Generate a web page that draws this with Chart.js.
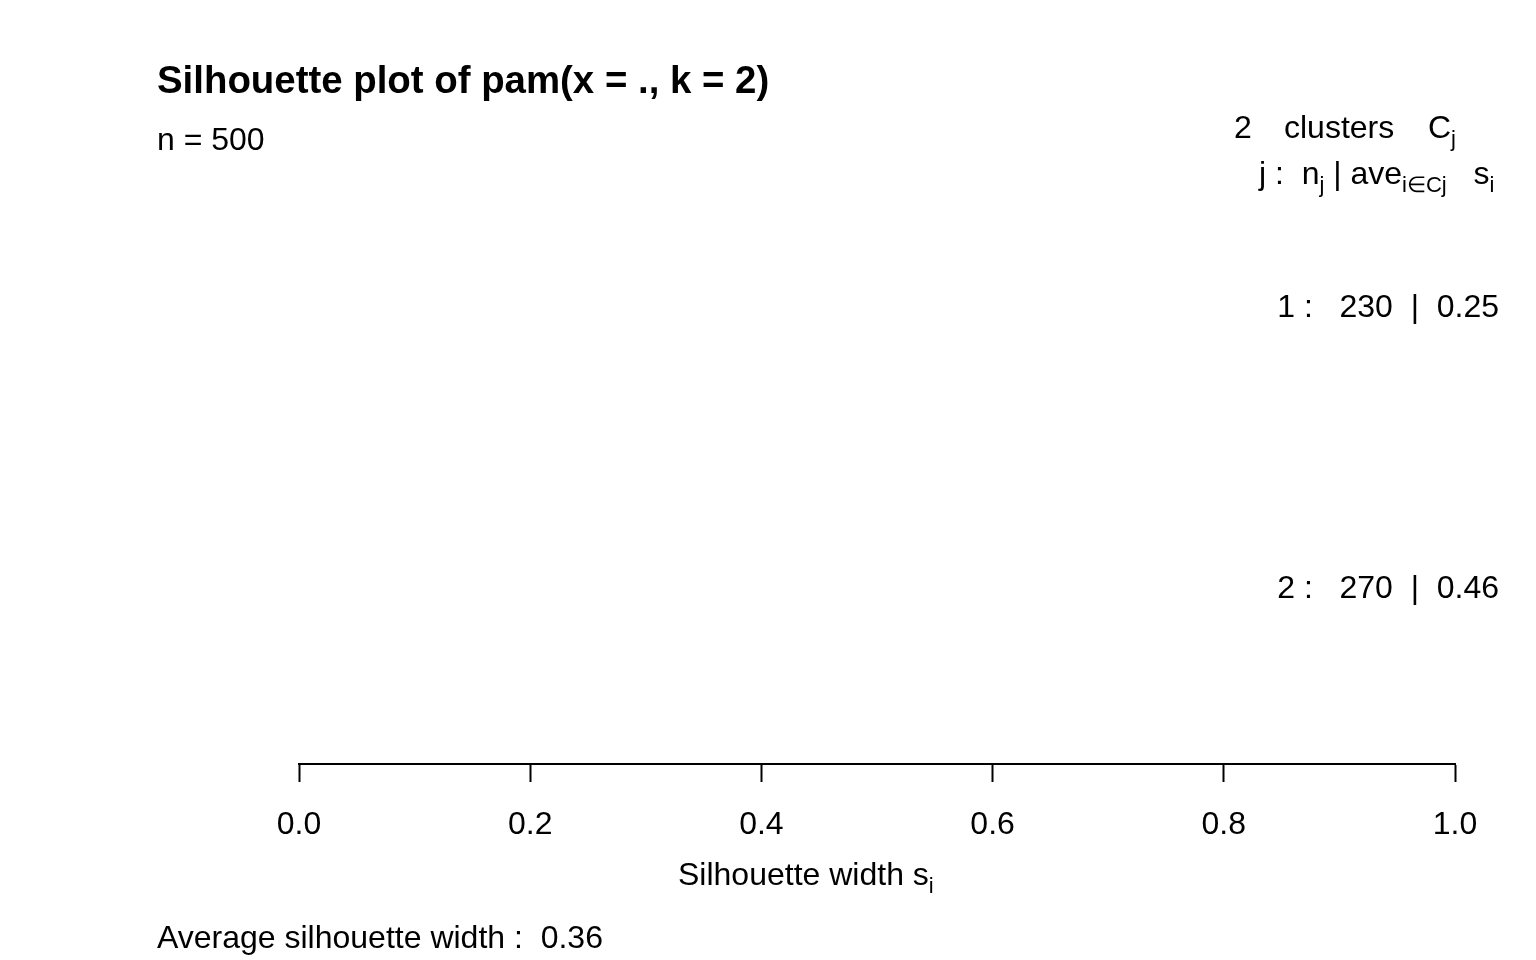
<!DOCTYPE html>
<html>
<head>
<meta charset="utf-8">
<script src="https://cdn.jsdelivr.net/npm/chart.js@4"></script>
<style>
  html, body { margin: 0; padding: 0; background: #fff; }
  #wrap { width: 1536px; height: 960px; }
</style>
</head>
<body>
<div id="wrap"><canvas id="myChart" width="1536" height="960"></canvas></div>
<script>
/* Data */

const clusterIds = [1, 2]
const clusterSizes = [230, 270]
const clusterAvgWidths = [0.25, 0.46]
const xTicks = [0, 0.2, 0.4, 0.6, 0.8, 1.0]
const avgWidth = 0.36
const totalN = clusterSizes.reduce((a, b) => a + b, 0)

const FONT = '"Liberation Sans", Arial, Helvetica, sans-serif'

// bar index layout like R's barplot: clusters stacked, one bar gap between them
let start = 0
const clusterMids = clusterSizes.map((n) => {
    const mid = start + n / 2
    start += n + 1
    return mid
})

function drawParts(ctx, parts, x, y, align) {
    const size = 32, sub = 22
    let w = 0
    parts.forEach((p) => {
        ctx.font = (p.sub ? sub : size) + 'px ' + FONT
        w += ctx.measureText(p.t).width
    })
    let cx = align === 'right' ? x - w : x
    parts.forEach((p) => {
        if (p.x !== undefined) cx = p.x
        ctx.font = (p.sub ? sub : size) + 'px ' + FONT
        ctx.fillText(p.t, cx, y + (p.sub ? 8 : 0))
        cx += ctx.measureText(p.t).width
    })
}

const textPlugin = {
    id: 'silText',
    afterDraw(chart) {
        const ctx = chart.ctx
        const y = chart.scales.y
        ctx.save()
        ctx.fillStyle = '#000'
        ctx.textBaseline = 'alphabetic'
        ctx.textAlign = 'left'

        ctx.font = 'bold 38.4px ' + FONT
        ctx.fillText('Silhouette plot of pam(x = ., k = 2)', 157, 93)

        ctx.font = '32px ' + FONT
        ctx.fillText('n = ' + totalN, 157, 150)

        drawParts(ctx, [
            {t: String(clusterIds.length), x: 1234}, {t: 'clusters', x: 1284},
            {t: 'C', x: 1428}, {t: 'j', sub: true}
        ], 1234, 138)
        drawParts(ctx, [
            {t: 'j :  n'}, {t: 'j', sub: true}, {t: ' | ave'}, {t: 'i\u2208Cj', sub: true},
            {t: '   s'}, {t: 'i', sub: true}
        ], 1259, 184)

        ctx.font = '32px ' + FONT
        ctx.textAlign = 'right'
        clusterIds.forEach((id, i) => {
            const py = y.getPixelForValue(clusterMids[i])
            ctx.fillText(id + ' :   ' + clusterSizes[i] + '  |  ' + clusterAvgWidths[i].toFixed(2), 1499, py + 11)
        })
        ctx.textAlign = 'left'

        drawParts(ctx, [{t: 'Silhouette width s'}, {t: 'i', sub: true}], 678, 885)

        ctx.font = '32px ' + FONT
        ctx.fillText('Average silhouette width :  ' + avgWidth.toFixed(2), 157, 948)
        ctx.restore()
    }
}

/* Chart */

const ctx = document.getElementById('myChart');
new Chart(ctx, {
    type: 'scatter',
    data: { datasets: [] },
    plugins: [textPlugin],
    options: {
        responsive: false,
        animation: false,
        layout: {
            padding: {left: 299, right: 81, top: 155, bottom: 116}
        },
        scales: {
            x: {
                type: 'linear',
                min: 0,
                max: 1,
                afterBuildTicks: (s) => { s.ticks = xTicks.map((v) => ({value: v})) },
                afterFit: (s) => { s.height = 80 },
                ticks: {
                    color: '#000',
                    padding: 24,
                    maxRotation: 0,
                    font: {family: FONT, size: 32},
                    callback: (v) => Number(v).toFixed(1)
                },
                grid: {
                    drawOnChartArea: false,
                    drawTicks: true,
                    tickLength: 18,
                    tickWidth: 2,
                    tickColor: '#000'
                },
                border: {display: true, color: '#000', width: 2}
            },
            y: {
                type: 'linear',
                display: false,
                reverse: true,
                min: -20,
                max: 524
            }
        },
        plugins: {
            legend: {display: false},
            tooltip: {enabled: false}
        }
    }
});
</script>
</body>
</html>
